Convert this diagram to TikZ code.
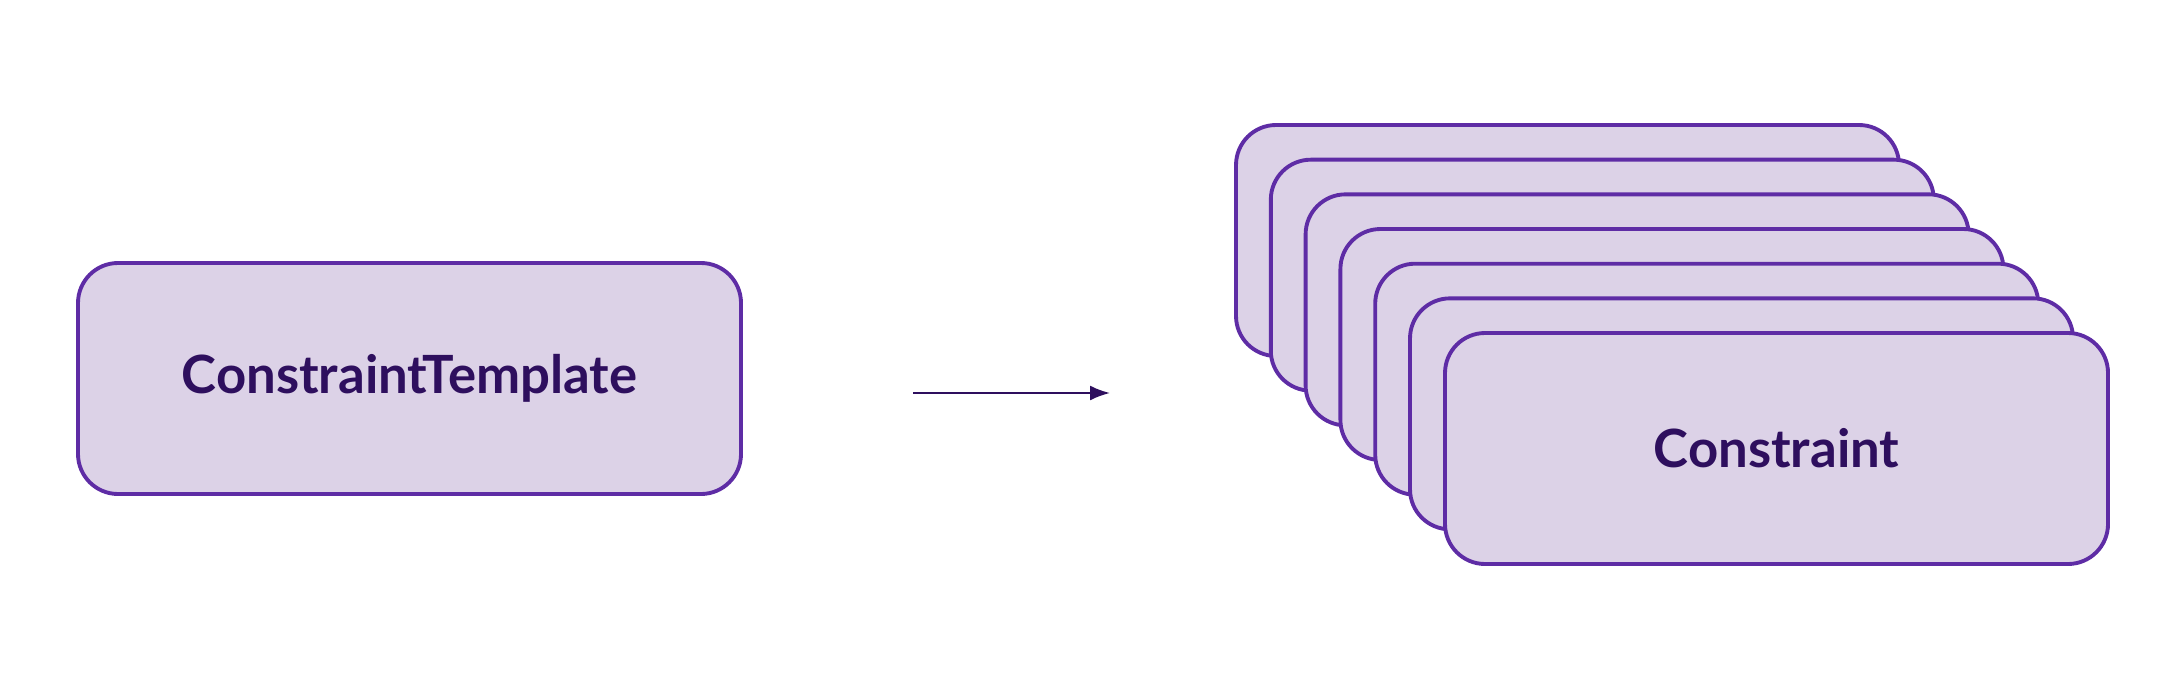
\documentclass[tikz,border=0pt]{standalone}
\usepackage{fontspec}
\setmainfont{Lato}
\usetikzlibrary{arrows.meta}
\definecolor{card}{HTML}{DCD2E7}
\definecolor{cardline}{HTML}{5E2CA5}
\definecolor{ink}{HTML}{2E0F5E}
\tikzset{
  >=Latex,
  every node/.style={font=\fontsize{15}{17}\selectfont\bfseries,text=ink},
  card/.style={draw=cardline,line width=1.1pt,rounded corners=4mm,fill=card,minimum width=66.3mm,minimum height=23.1mm,align=center,inner sep=0pt},
  arrow/.style={-{Latex[length=2mm,width=1.5mm]},line width=0.6pt,draw=ink},
}

\begin{document}
\begin{tikzpicture}[x=1cm,y=1cm]
  \useasboundingbox (0,0) rectangle (21.83,6.89);
  \node[card] (template) at (4.095,3.105) {ConstraintTemplate};

  % stack of instances, back to front
  \foreach \i in {0,...,5}
    \node[card] (inst\i) at (15.675+0.348*\i,4.485-0.3467*\i) {};
  \node[card] (constraint) at (17.765,2.405) {Constraint};

  \coordinate (from) at (9.13,2.96);
  \coordinate (to) at (11.10,2.96);
  \draw[arrow] (from) -- (to);
\end{tikzpicture}
\end{document}
